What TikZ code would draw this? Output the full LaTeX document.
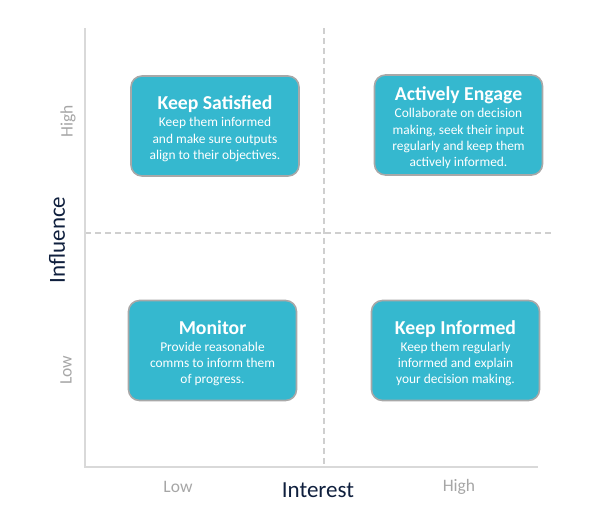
\documentclass[tikz,border=0pt]{standalone}
\usepackage{fontspec}
\setmainfont{Carlito}
\definecolor{boxfill}{HTML}{35B8CF}
\definecolor{boxline}{HTML}{A8A8A8}
\definecolor{axisline}{HTML}{D9D9D9}
\definecolor{dashline}{HTML}{CFCFCF}
\definecolor{lowhigh}{HTML}{A6A6A6}
\definecolor{axtitle}{HTML}{0F1F3D}
\tikzset{
  quadbox/.style={draw=boxline, line width=1.6pt, fill=boxfill, rounded corners=11pt,
    minimum width=168pt, minimum height=100pt, text=white, align=center, inner sep=2pt,
    font=\fontsize{13.4}{16.3}\selectfont},
  lvl/.style={text=lowhigh, font=\fontsize{17.5}{19}\selectfont},
  axt/.style={text=axtitle, font=\fontsize{23}{26}\selectfont},
}
\newcommand{\qtitle}[1]{{\fontsize{19.7}{21}\selectfont\bfseries\rule{0pt}{19.5pt}#1}\\[0.7pt]}
\begin{document}
\begin{tikzpicture}[x=1pt,y=-1pt]
\useasboundingbox (0,0) rectangle (602,525);
\coordinate (o) at (85,467);
\coordinate (ytop) at (85,28);
\coordinate (xend) at (538,467);
\coordinate (vtop) at (324,28);
\coordinate (vbot) at (324,467);
\coordinate (hl) at (85,233);
\coordinate (hr) at (552,233);
\draw[dashline, line width=1.3pt, dash pattern=on 6pt off 4pt] (vtop) -- (vbot);
\draw[dashline, line width=1.3pt, dash pattern=on 6pt off 4pt] (hl) -- (hr);
\draw[axisline, line width=1.8pt] (ytop) -- (o) -- (xend);

\node[quadbox] (ks) at (215,126) {\qtitle{Keep Satisfied}Keep them informed\\and make sure outputs\\align to their objectives.};
\node[quadbox] (ae) at (458.5,125) {\qtitle{Actively Engage}Collaborate on decision\\making, seek their input\\regularly and keep them\\actively informed.};
\node[quadbox] (mo) at (212.5,350.5) {\qtitle{Monitor}Provide reasonable\\comms to inform them\\of progress.};
\node[quadbox] (ki) at (455.5,350.5) {\qtitle{Keep Informed}Keep them regularly\\informed and explain\\your decision making.};

\node[lvl, rotate=90] (yh) at (68,121) {High};
\node[lvl, rotate=90] (yl) at (66,370) {Low};
\node[axt, rotate=90] (yt) at (57,240) {Influence};
\node[lvl] (xl) at (178,487) {Low};
\node[lvl] (xh) at (459,487) {High};
\node[axt] (xt) at (318,490) {Interest};
\end{tikzpicture}
\end{document}
